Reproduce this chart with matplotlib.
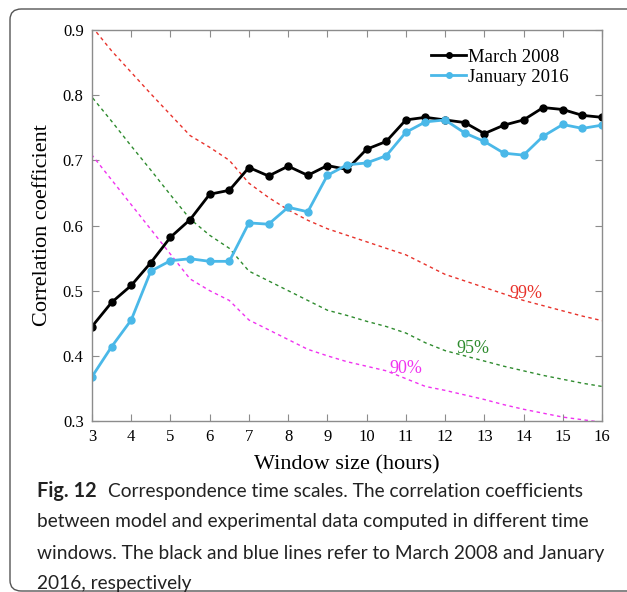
import matplotlib
matplotlib.use("Agg")
import matplotlib.pyplot as plt
from matplotlib.patches import FancyBboxPatch

# Window sizes (hours)
window = [3, 3.5, 4, 4.5, 5, 5.5, 6, 6.5, 7, 7.5, 8, 8.5, 9, 9.5, 10,
          10.5, 11, 11.5, 12, 12.5, 13, 13.5, 14, 14.5, 15, 15.5, 16]

# Correlation between model and data
march_2008 = [0.445, 0.482, 0.508, 0.543, 0.582, 0.609, 0.648, 0.654, 0.689,
              0.676, 0.691, 0.677, 0.692, 0.686, 0.717, 0.729, 0.762, 0.766,
              0.762, 0.758, 0.741, 0.754, 0.762, 0.781, 0.778, 0.769, 0.766]
january_2016 = [0.368, 0.414, 0.455, 0.530, 0.546, 0.549, 0.545, 0.545, 0.604,
                0.602, 0.628, 0.621, 0.677, 0.693, 0.696, 0.707, 0.743, 0.759,
                0.762, 0.742, 0.729, 0.711, 0.708, 0.737, 0.755, 0.749, 0.754]

# Significance thresholds (first window appears twice: the curves open with a drop)
thr_window = [3] + window
sig_99 = [0.905, 0.905, 0.868, 0.835, 0.802, 0.770, 0.738, 0.720, 0.700, 0.665,
          0.643, 0.624, 0.608, 0.595, 0.585, 0.575, 0.565, 0.555, 0.540,
          0.525, 0.515, 0.505, 0.495, 0.485, 0.477, 0.469, 0.461, 0.454]
sig_95 = [0.838, 0.797, 0.760, 0.722, 0.685, 0.647, 0.610, 0.585, 0.565, 0.530,
          0.515, 0.500, 0.485, 0.470, 0.462, 0.453, 0.445, 0.435, 0.420,
          0.408, 0.400, 0.392, 0.384, 0.377, 0.370, 0.364, 0.358, 0.353]
sig_90 = [0.752, 0.708, 0.670, 0.632, 0.594, 0.556, 0.518, 0.500, 0.485, 0.455,
          0.440, 0.425, 0.410, 0.400, 0.391, 0.384, 0.377, 0.365, 0.353,
          0.347, 0.340, 0.333, 0.325, 0.318, 0.312, 0.306, 0.302, 0.298]

serif = "Liberation Serif"
axis_grey = "#8c8c8c"
dashes = (0, (2.5, 2.5))

fig = plt.figure(figsize=(6.27, 5.92), dpi=100)

# rounded caption frame around the whole figure
frame = FancyBboxPatch((10 / 627, 1 / 592), 1.2, 1 - 10 / 592,
                       boxstyle="round,pad=0,rounding_size=0.018",
                       transform=fig.transFigure, fill=False,
                       edgecolor="#555555", linewidth=1.0)
fig.patches.append(frame)

ax = fig.add_axes([92 / 627, 1 - 421 / 592, 510 / 627, 391 / 592])

ax.plot(thr_window, sig_99, color="#e8322b", linestyle=dashes, linewidth=1.0)
ax.plot(thr_window, sig_95, color="#2e8b2e", linestyle=dashes, linewidth=1.0)
ax.plot(thr_window, sig_90, color="#f032f0", linestyle=dashes, linewidth=1.0)

ax.plot(window, march_2008, color="black", marker="o", markersize=5,
        linewidth=2.0, label="March 2008")
ax.plot(window, january_2016, color="#4ab8e8", marker="o", markersize=5,
        linewidth=2.0, label="January 2016")

ax.text(14.05, 0.495, "99%", color="#e8322b", fontsize=13, family=serif,
        ha="center", va="center")
ax.text(12.7, 0.412, "95%", color="#2e8b2e", fontsize=13, family=serif,
        ha="center", va="center")
ax.text(11.0, 0.381, "90%", color="#f032f0", fontsize=13, family=serif,
        ha="center", va="center")

ax.set_xlim(3, 16)
ax.set_ylim(0.3, 0.9)
ax.set_xticks(range(3, 17))
ax.set_yticks([0.3, 0.4, 0.5, 0.6, 0.7, 0.8, 0.9])
ax.set_yticklabels(["0.3", "0.4", "0.5", "0.6", "0.7", "0.8", "0.9"])
ax.tick_params(direction="in", top=True, right=True, length=5,
               color=axis_grey, labelsize=12, pad=6)
for label in ax.get_xticklabels() + ax.get_yticklabels():
    label.set_family(serif)
for spine in ax.spines.values():
    spine.set_color(axis_grey)
    spine.set_linewidth(1.0)

ax.set_xlabel("Window size (hours)", fontsize=16, family=serif, labelpad=7)
ax.set_ylabel("Correlation coefficient", fontsize=16, family=serif, labelpad=8)

leg = ax.legend(loc="upper right", frameon=False,
                prop={"family": serif, "size": 13.5},
                handlelength=1.9, handletextpad=0.1, labelspacing=0.15,
                borderpad=0, borderaxespad=0, bbox_to_anchor=(0.935, 0.952))
for line in leg.get_lines():
    line.set_markersize(4)

# caption
caption_font = "Lato"
caption_size = 13.8
fig.text(37 / 627, 1 - 491 / 592, "Fig. 12", fontsize=caption_size + 0.5,
         weight="bold", family=caption_font, va="center", color="#222222")
fig.text(108 / 627, 1 - 491 / 592,
         "Correspondence time scales. The correlation coefficients",
         fontsize=caption_size, family=caption_font, va="center", color="#222222")
caption_lines = [
    "between model and experimental data computed in different time",
    "windows. The black and blue lines refer to March 2008 and January",
    "2016, respectively",
]
for i, line in enumerate(caption_lines):
    fig.text(37 / 627, 1 - (522 + 31 * i) / 592, line, fontsize=caption_size,
             family=caption_font, va="center", color="#222222")

fig.savefig("out.png", dpi=100)
